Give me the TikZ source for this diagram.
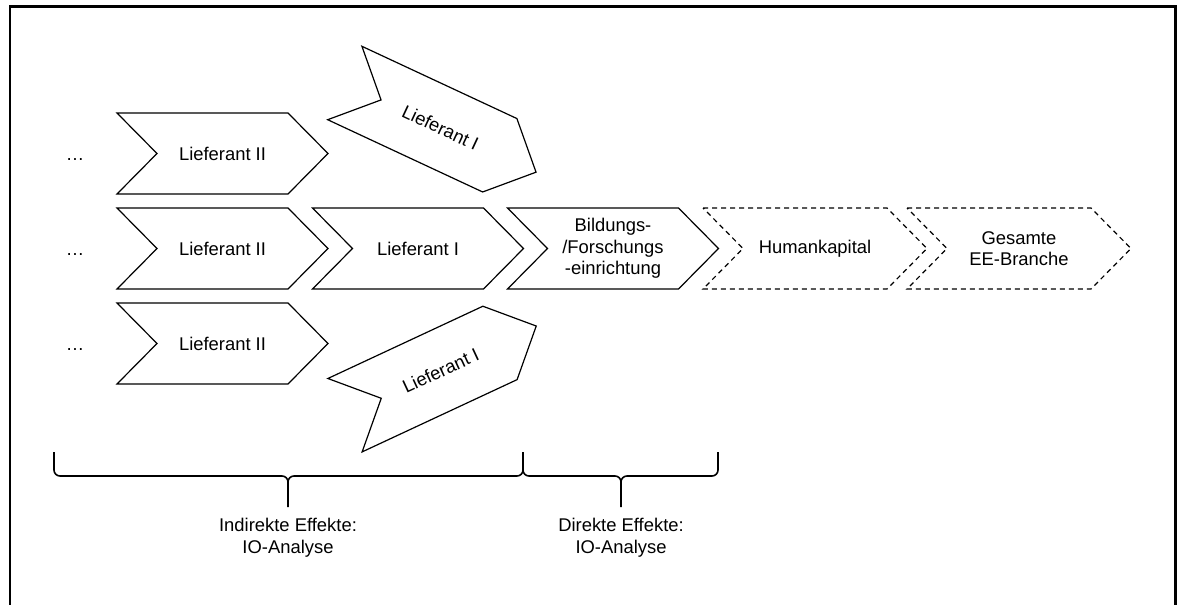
\documentclass[tikz,border=0pt]{standalone}
\usepackage{fontspec}
\setmainfont{Liberation Sans}
\usepackage{tikz}

\tikzset{
  chev/.style={line width=0.6pt, line join=miter},
  chevdash/.style={chev, dash pattern=on 2.5pt off 2pt},
  lbl/.style={font=\fontsize{9.2}{10.75}\selectfont, align=center, inner sep=0pt},
  brc/.style={line width=0.8pt},
}

% #1 style, #2 name, #3 back centre, #4 angle, #5 body length, #6 text
\newcommand{\chevron}[6]{%
  \begin{scope}[shift={#3}, rotate=#4]
    \draw[#1] (0,-40.5) -- (#5,-40.5) -- (#5+40,0) -- (#5,40.5) -- (0,40.5) -- (40,0) -- cycle;
    \node[lbl, rotate=#4] (#2) at ({(#5+40)/2},0) {#6};
  \end{scope}}

\begin{document}
\begin{tikzpicture}[x=0.5pt, y=-0.5pt]
    \useasboundingbox (0,0) rectangle (1184,605);
    \clip (0,0) rectangle (1184,605);

    % Frame
    \draw[line width=1.25pt] (10,640) -- (10,6.7) -- (1175.7,6.7) -- (1175.7,640);

    % Row 1
    \node[lbl, anchor=base] (dotsA) at (75,160) {\dots};
    \chevron{chev}{supTwoA}{(117,153.5)}{0}{171}{Lieferant II}
    \chevron{chev}{supOneA}{(344.8,83)}{-25}{171}{Lieferant I}

    % Row 2
    \node[lbl, anchor=base] (dotsB) at (75,255) {\dots};
    \chevron{chev}{supTwoB}{(117,248.5)}{0}{171}{Lieferant II}
    \chevron{chev}{supOneB}{(312.5,248.5)}{0}{171}{Lieferant I}
    \chevron{chev}{inst}{(507.5,248.5)}{0}{171}{Bildungs-\\/Forschungs\\-einrichtung}
    \chevron{chevdash}{human}{(703,248.5)}{0}{184}{Humankapital}
    \chevron{chevdash}{branch}{(907,248.5)}{0}{184}{Gesamte\\EE-Branche}

    % Row 3
    \node[lbl, anchor=base] (dotsC) at (75,350) {\dots};
    \chevron{chev}{supTwoC}{(117,343.5)}{0}{171}{Lieferant II}
    \chevron{chev}{supOneC}{(345,415.2)}{25}{171}{Lieferant I}

    % Braces
    \draw[brc] (54,452) -- (54,470) to[out=-90,in=180] (60,476) -- (282,476)
        to[out=0,in=90] (288,482) -- (288,507);
    \draw[brc] (288,482) to[out=90,in=180] (294,476) -- (517,476)
        to[out=0,in=-90] (523,470) -- (523,452);
    \draw[brc] (523,470) to[out=-90,in=180] (529,476) -- (615,476)
        to[out=0,in=90] (621,482) -- (621,507);
    \draw[brc] (621,482) to[out=90,in=180] (627,476) -- (712,476)
        to[out=0,in=-90] (718,470) -- (718,452);

    \node[lbl, anchor=north] (indirect) at (288,518) {Indirekte Effekte:\\IO-Analyse};
    \node[lbl, anchor=north] (direct) at (621,518) {Direkte Effekte:\\IO-Analyse};
\end{tikzpicture}
\end{document}
